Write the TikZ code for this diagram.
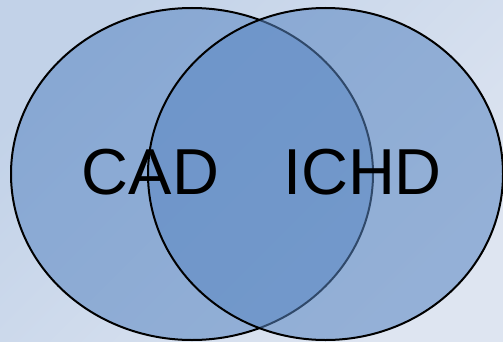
\documentclass[tikz,border=0pt]{standalone}
\usepackage{fontspec}
\setmainfont{Liberation Sans}
\usetikzlibrary{shapes.geometric}
\definecolor{bgA}{HTML}{C2D2E8}
\definecolor{bgB}{HTML}{DEE5F1}
\definecolor{setfill}{HTML}{5986C2}
\begin{document}
\begin{tikzpicture}[x=1pt,y=1pt,
  setellipse/.style={ellipse, draw=black, line width=2pt, fill=setfill, fill opacity=0.55, draw opacity=1, inner sep=0pt},
  setlabel/.style={inner sep=0pt, font=\fontsize{65}{65}\selectfont, text opacity=1}]
\path[use as bounding box, left color=bgA, right color=bgB, shading angle=45] (0,0) rectangle (503,341);
\begin{scope}
\clip (0,0) rectangle (503,341);
\node[setellipse, minimum width=362pt, minimum height=332pt] (cad) at (192,167) {};
\node[setellipse, minimum width=355pt, minimum height=332pt] (ichd) at (325.5,167) {};
\end{scope}
\node[setlabel] (cadlabel) at (150.5,168.5) {CAD};
\node[setlabel] (ichdlabel) at (362.5,168.5) {ICHD};
\end{tikzpicture}
\end{document}
